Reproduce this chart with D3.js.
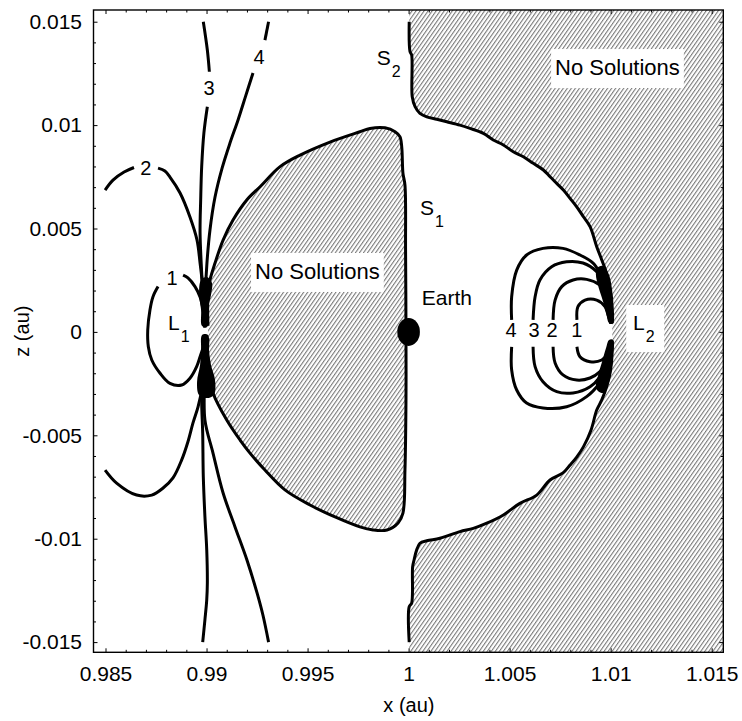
<!DOCTYPE html>
<html>
<head>
<meta charset="utf-8">
<script src="https://cdn.jsdelivr.net/npm/d3@7"></script>
<style>
  body { margin: 0; background: #fff; }
  text { font-family: "Liberation Sans", Arial, Helvetica, sans-serif; fill: #000; }
</style>
</head>
<body>
<svg id="chart" width="742" height="721"></svg>
<script>
// ---- Zero-velocity / solution-boundary curves in the x–z plane (au) ----

// Forbidden region between L1 and the Earth (closed, starting next to L1 above the axis)
const centralRegion = [
  [0.99007, 0.00030], [0.99007, 0.00188], [0.99017, 0.00251], [0.99042, 0.00333],
  [0.99082, 0.00444], [0.99131, 0.00541], [0.99199, 0.00638], [0.99265, 0.00702],
  [0.99364, 0.00799], [0.99463, 0.00855], [0.99611, 0.00918], [0.99759, 0.00968],
  [0.99809, 0.00984], [0.99883, 0.00987], [0.99933, 0.00968], [0.99957, 0.00944],
  [0.99966, 0.00895], [0.99972, 0.00768], [0.99982, 0.00710], [0.99985, 0.00396],
  [0.99987, 0.00000], [0.99987, -0.00329], [0.99982, -0.00668], [0.99972, -0.00876],
  [0.99948, -0.00924], [0.99893, -0.00958], [0.99824, -0.00958], [0.99759, -0.00943],
  [0.99636, -0.00895], [0.99512, -0.00837], [0.99388, -0.00764], [0.99289, -0.00668],
  [0.99215, -0.00586], [0.99166, -0.00523], [0.99100, -0.00426], [0.99032, -0.00295],
  [0.99007, -0.00184], [0.99007, -0.00030]
];

// Outer boundary S2, above and below L2
const separatrixUpper = [
  [1.00003, 0.01500], [1.00007, 0.01355], [1.00015, 0.01339], [1.00018, 0.01137],
  [1.00032, 0.01089], [1.00056, 0.01057], [1.00090, 0.01040], [1.00139, 0.01028],
  [1.00189, 0.01016], [1.00254, 0.01000], [1.00304, 0.00984], [1.00370, 0.00960],
  [1.00419, 0.00928], [1.00469, 0.00904], [1.00518, 0.00871], [1.00568, 0.00847],
  [1.00617, 0.00815], [1.00667, 0.00783], [1.00700, 0.00750], [1.00733, 0.00718],
  [1.00766, 0.00686], [1.00799, 0.00646], [1.00832, 0.00605], [1.00865, 0.00557],
  [1.00898, 0.00509], [1.00931, 0.00412], [1.00956, 0.00348], [1.00980, 0.00283],
  [1.00997, 0.00203], [1.01005, 0.00122], [1.01008, 0.00042]
];
const separatrixLower = [
  [1.01008, -0.00042], [1.01005, -0.00103], [1.00997, -0.00184], [1.00980, -0.00265],
  [1.00956, -0.00329], [1.00931, -0.00378], [1.00903, -0.00474], [1.00865, -0.00556],
  [1.00832, -0.00605], [1.00799, -0.00644], [1.00764, -0.00682], [1.00700, -0.00716],
  [1.00634, -0.00789], [1.00551, -0.00829], [1.00469, -0.00885], [1.00387, -0.00925],
  [1.00320, -0.00950], [1.00254, -0.00966], [1.00155, -0.00998], [1.00090, -0.01010],
  [1.00056, -0.01022], [1.00040, -0.01054], [1.00027, -0.01103], [1.00020, -0.01135],
  [1.00015, -0.01312], [1.00003, -0.01329], [1.00003, -0.01500]
];

// Contours through L1 (each one split where its number label sits)
const l1Contour1 = [
  [[0.98884, 0.00275], [0.98908, 0.00261], [0.98943, 0.00219], [0.98968, 0.00169],
   [0.98983, 0.00106], [0.98992, 0.00022]],
  [[0.98760, 0.00219], [0.98735, 0.00170], [0.98720, 0.00106], [0.98709, 0.00009],
   [0.98712, -0.00072], [0.98729, -0.00136], [0.98770, -0.00200], [0.98819, -0.00249],
   [0.98877, -0.00257], [0.98918, -0.00224], [0.98951, -0.00168], [0.98968, -0.00120],
   [0.98984, -0.00072], [0.98992, -0.00022]]
];
const l1Contour2 = [
  [[0.98498, 0.00686], [0.98537, 0.00734], [0.98592, 0.00773], [0.98641, 0.00795]],
  [[0.98760, 0.00792], [0.98794, 0.00778], [0.98819, 0.00749], [0.98869, 0.00672],
   [0.98918, 0.00556], [0.98953, 0.00444], [0.98968, 0.00333], [0.98983, 0.00203],
   [0.98990, 0.00106], [0.98992, 0.00022]],
  [[0.98992, -0.00022], [0.98987, -0.00160], [0.98976, -0.00281], [0.98958, -0.00362],
   [0.98933, -0.00440], [0.98908, -0.00531], [0.98877, -0.00619], [0.98834, -0.00706],
   [0.98785, -0.00755], [0.98729, -0.00789], [0.98654, -0.00789], [0.98555, -0.00731],
   [0.98498, -0.00668]]
];
const l1Contour3 = [
  [[0.98984, 0.01500], [0.99004, 0.01363], [0.99014, 0.01258]],
  [[0.99004, 0.01089], [0.98987, 0.00962], [0.98976, 0.00799], [0.98971, 0.00638],
   [0.98968, 0.00478], [0.98976, 0.00285], [0.98983, 0.00154], [0.98992, 0.00022]],
  [[0.98992, -0.00022], [0.98983, -0.00184], [0.98976, -0.00329], [0.98981, -0.00489],
   [0.98984, -0.00700], [0.98992, -0.00893], [0.99001, -0.01054], [0.99004, -0.01214],
   [0.99001, -0.01296], [0.98992, -0.01392], [0.98981, -0.01500]]
];
const l1Contour4 = [
  [[0.99307, 0.01500], [0.99289, 0.01411]],
  [[0.99230, 0.01252], [0.99195, 0.01145], [0.99156, 0.01025], [0.99116, 0.00913],
   [0.99077, 0.00792], [0.99042, 0.00652], [0.99017, 0.00493], [0.99002, 0.00333],
   [0.98995, 0.00203], [0.98992, 0.00022]],
  [[0.98992, -0.00022], [0.98990, -0.00233], [0.98992, -0.00426], [0.99032, -0.00586],
   [0.99082, -0.00779], [0.99141, -0.00943], [0.99200, -0.01103], [0.99250, -0.01262],
   [0.99279, -0.01369], [0.99307, -0.01500]]
];

// Contours closing on L2
const l2Contour1 = [
  [[1.00833, 0.00058], [1.00838, 0.00122], [1.00873, 0.00154], [1.00931, 0.00154],
   [1.00972, 0.00122], [1.00987, 0.00082], [1.01002, 0.00040]],
  [[1.00833, -0.00072], [1.00848, -0.00120], [1.00898, -0.00144], [1.00956, -0.00136],
   [1.00987, -0.00102], [1.01002, -0.00040]]
];
const l2Contour2 = [
  [[1.00715, 0.00058], [1.00725, 0.00154], [1.00758, 0.00219], [1.00814, 0.00251],
   [1.00881, 0.00254], [1.00947, 0.00227], [1.00980, 0.00188], [1.00997, 0.00116],
   [1.01002, 0.00040]],
  [[1.00715, -0.00072], [1.00725, -0.00150], [1.00764, -0.00208], [1.00832, -0.00233],
   [1.00898, -0.00223], [1.00947, -0.00192], [1.00980, -0.00150], [1.01002, -0.00040]]
];
const l2Contour3 = [
  [[1.00616, 0.00058], [1.00626, 0.00170], [1.00650, 0.00251], [1.00708, 0.00315],
   [1.00782, 0.00339], [1.00863, 0.00333], [1.00931, 0.00291], [1.00972, 0.00227],
   [1.00997, 0.00130], [1.01002, 0.00040]],
  [[1.00616, -0.00072], [1.00626, -0.00168], [1.00665, -0.00241], [1.00733, -0.00289],
   [1.00814, -0.00295], [1.00898, -0.00265], [1.00947, -0.00217], [1.00982, -0.00146],
   [1.01002, -0.00040]]
];
const l2Contour4 = [
  [[1.00510, 0.00058], [1.00510, 0.00170], [1.00535, 0.00299], [1.00584, 0.00372],
   [1.00665, 0.00404], [1.00764, 0.00404], [1.00848, 0.00372], [1.00913, 0.00333],
   [1.00947, 0.00285], [1.00980, 0.00219], [1.00997, 0.00122], [1.01002, 0.00040]],
  [[1.00510, -0.00072], [1.00510, -0.00184], [1.00535, -0.00281], [1.00584, -0.00344],
   [1.00665, -0.00368], [1.00782, -0.00362], [1.00881, -0.00313], [1.00947, -0.00247],
   [1.00987, -0.00184], [1.00997, -0.00112], [1.01002, -0.00040]]
];

// Dense tangles where the contours pile up next to L1 and L2
const l1TangleUpper = [
  [0.98973, 0.00251], [0.99002, 0.00265], [0.99027, 0.00236], [0.99022, 0.00178],
  [0.99007, 0.00106], [0.99007, 0.00029], [0.98978, 0.00029], [0.98973, 0.00106],
  [0.98963, 0.00188]
];
const l1TangleLower = [
  [0.98978, -0.00015], [0.99007, -0.00015], [0.99012, -0.00088], [0.99022, -0.00160],
  [0.99042, -0.00233], [0.99037, -0.00305], [0.99002, -0.00320], [0.98963, -0.00305],
  [0.98953, -0.00242], [0.98968, -0.00160], [0.98973, -0.00088]
];
const l2TangleUpper = [
  [1.00932, 0.00309], [1.00962, 0.00319], [1.00992, 0.00275], [1.01007, 0.00203],
  [1.01014, 0.00130], [1.01012, 0.00043], [1.00992, 0.00043], [1.00977, 0.00096],
  [1.00957, 0.00164], [1.00937, 0.00227], [1.00927, 0.00275]
];
const l2TangleLower = [
  [1.01012, -0.00039], [1.00992, -0.00039], [1.00977, -0.00078], [1.00957, -0.00146],
  [1.00937, -0.00213], [1.00927, -0.00262], [1.00937, -0.00286], [1.00967, -0.00295],
  [1.00992, -0.00247], [1.01007, -0.00184], [1.01014, -0.00112]
];

// Contour number labels [x, z, text]
const contourLabels = [
  [0.98829, 0.00263, "1"], [0.98700, 0.00791, "2"], [0.99012, 0.01178, "3"], [0.99260, 0.01329, "4"],
  [1.00833, 0.00009, "1"], [1.00710, 0.00009, "2"], [1.00621, 0.00009, "3"], [1.00507, 0.00009, "4"]
];

// Earth position
const earth = [1.0, 0.0];

// Axis ticks
const xMajorTicks = [0.985, 0.99, 0.995, 1, 1.005, 1.01, 1.015];
const xTickLabels = ["0.985", "0.99", "0.995", "1", "1.005", "1.01", "1.015"];
const zMajorTicks = [0.015, 0.01, 0.005, 0, -0.005, -0.01, -0.015];
const zTickLabels = ["0.015", "0.01", "0.005", "0", "-0.005", "-0.01", "-0.015"];

// ---- Layout ----
const plotL = 93.5, plotR = 723.3, plotT = 10, plotB = 652.3;
const xScale = d3.scaleLinear().domain([0.984406, 1.015574]).range([plotL, plotR]);
const zScale = d3.scaleLinear().domain([-0.015493, 0.015566]).range([plotB, plotT]);
const [xMin, xMax] = xScale.domain();
const [zMin, zMax] = zScale.domain();

const svg = d3.select("#chart");
const defs = svg.append("defs");

const hatch = defs.append("pattern")
  .attr("id", "hatch")
  .attr("patternUnits", "userSpaceOnUse")
  .attr("width", 3.3).attr("height", 10)
  .attr("patternTransform", "rotate(35)");
hatch.append("rect").attr("width", 3.3).attr("height", 10).attr("fill", "#fff");
hatch.append("line")
  .attr("x1", 0.6).attr("y1", 0).attr("x2", 0.6).attr("y2", 10)
  .attr("stroke", "#555").attr("stroke-width", 0.85);

defs.append("clipPath").attr("id", "plotClip")
  .append("rect").attr("x", plotL).attr("y", plotT)
  .attr("width", plotR - plotL).attr("height", plotB - plotT);

const plot = svg.append("g").attr("clip-path", "url(#plotClip)");

const smooth = d3.line()
  .x(d => xScale(d[0])).y(d => zScale(d[1]))
  .curve(d3.curveCatmullRom.alpha(0.5));
const straight = d3.line()
  .x(d => xScale(d[0])).y(d => zScale(d[1]));
const blob = d3.line()
  .x(d => xScale(d[0])).y(d => zScale(d[1]))
  .curve(d3.curveCatmullRomClosed.alpha(0.5));

// Hatched forbidden regions
const outerRegion = [[separatrixUpper[0][0], zMax]]
  .concat(separatrixUpper, separatrixLower,
          [[separatrixLower[separatrixLower.length - 1][0], zMin], [xMax, zMin], [xMax, zMax]]);
plot.append("path").attr("d", straight(outerRegion) + "Z").attr("fill", "url(#hatch)");
plot.append("path").attr("d", smooth(centralRegion) + "Z").attr("fill", "url(#hatch)");

// White label boxes over the hatching
const boxes = plot.append("g");

// Curves
const curveStyle = sel => sel.attr("fill", "none").attr("stroke", "#000")
  .attr("stroke-width", 3).attr("stroke-linejoin", "round");

plot.append("path").attr("d", smooth(centralRegion)).call(curveStyle);
plot.append("path").attr("d", smooth(separatrixUpper)).call(curveStyle);
plot.append("path").attr("d", smooth(separatrixLower)).call(curveStyle);

[l1Contour1, l1Contour2, l1Contour3, l1Contour4,
 l2Contour1, l2Contour2, l2Contour3, l2Contour4].forEach(contour => {
  contour.forEach(seg => plot.append("path").attr("d", smooth(seg)).call(curveStyle));
});

[l1TangleUpper, l1TangleLower, l2TangleUpper, l2TangleLower].forEach(t => {
  plot.append("path").attr("d", blob(t)).attr("fill", "#000");
});

// Earth
plot.append("ellipse")
  .attr("cx", xScale(earth[0])).attr("cy", zScale(earth[1]))
  .attr("rx", 11.3).attr("ry", 14).attr("fill", "#000");

// Contour numbers
plot.selectAll("text.num").data(contourLabels).join("text")
  .attr("class", "num")
  .attr("x", d => xScale(d[0])).attr("y", d => zScale(d[1]))
  .attr("text-anchor", "middle").attr("dy", "0.35em")
  .attr("font-size", 20)
  .text(d => d[2]);

// Region annotations
function noSolutions(x, z) {
  const t = plot.append("text")
    .attr("x", xScale(x)).attr("y", zScale(z))
    .attr("font-size", 22).text("No Solutions");
  const w = t.node().getComputedTextLength();
  boxes.append("rect")
    .attr("x", xScale(x) - 4).attr("y", zScale(z) - 26)
    .attr("width", w + 8).attr("height", 39).attr("fill", "#fff");
}
noSolutions(1.00725, 0.01242);
noSolutions(0.99240, 0.00256);

function subscripted(x, z, main, sub) {
  const px = xScale(x), py = zScale(z);
  const t = plot.append("text").attr("x", px).attr("y", py).attr("font-size", 21).text(main);
  const w = t.node().getComputedTextLength();
  plot.append("text").attr("x", px + w + 1).attr("y", py + 12).attr("font-size", 16).text(sub);
}
// white box behind the L2 label
boxes.append("rect")
  .attr("x", xScale(1.01077)).attr("y", zScale(0.00130))
  .attr("width", 38).attr("height", 47).attr("fill", "#fff");

subscripted(0.98809, 0.00009, "L", "1");
subscripted(1.01111, 0.00009, "L", "2");
subscripted(0.99842, 0.01290, "S", "2");
subscripted(1.00056, 0.00565, "S", "1");

plot.append("text")
  .attr("x", xScale(1.00065)).attr("y", zScale(0.00130))
  .attr("font-size", 21).text("Earth");

// ---- Axes: inward ticks on all four sides ----
const minorX = xScale.ticks(32).filter(v => !xMajorTicks.some(m => Math.abs(m - v) < 1e-9));
const minorZ = zScale.ticks(32).filter(v => !zMajorTicks.some(m => Math.abs(m - v) < 1e-9));

const styleAxis = g => {
  g.select(".domain").remove();
  g.selectAll(".tick line").attr("stroke", "#000").attr("stroke-width", 1);
  g.selectAll(".tick text")
    .attr("font-family", "'Liberation Sans', Arial, Helvetica, sans-serif")
    .attr("font-size", 21).attr("fill", "#000");
};

svg.append("g").attr("transform", `translate(0,${plotB})`)
  .call(d3.axisBottom(xScale).tickValues(xMajorTicks)
    .tickFormat(d => xTickLabels[xMajorTicks.indexOf(d)])
    .tickSize(-4).tickPadding(13.5))
  .call(styleAxis);
svg.append("g").attr("transform", `translate(${plotL},0)`)
  .call(d3.axisLeft(zScale).tickValues(zMajorTicks)
    .tickFormat(d => zTickLabels[zMajorTicks.indexOf(d)])
    .tickSize(-4).tickPadding(11.5))
  .call(styleAxis);
svg.append("g").attr("transform", `translate(0,${plotT})`)
  .call(d3.axisTop(xScale).tickValues(xMajorTicks).tickFormat("").tickSize(-4))
  .call(styleAxis);
svg.append("g").attr("transform", `translate(${plotR},0)`)
  .call(d3.axisRight(zScale).tickValues(zMajorTicks).tickFormat("").tickSize(-4))
  .call(styleAxis);

svg.append("g").attr("transform", `translate(0,${plotB})`)
  .call(d3.axisBottom(xScale).tickValues(minorX).tickFormat("").tickSize(-2.5)).call(styleAxis);
svg.append("g").attr("transform", `translate(0,${plotT})`)
  .call(d3.axisTop(xScale).tickValues(minorX).tickFormat("").tickSize(-2.5)).call(styleAxis);
svg.append("g").attr("transform", `translate(${plotL},0)`)
  .call(d3.axisLeft(zScale).tickValues(minorZ).tickFormat("").tickSize(-2.5)).call(styleAxis);
svg.append("g").attr("transform", `translate(${plotR},0)`)
  .call(d3.axisRight(zScale).tickValues(minorZ).tickFormat("").tickSize(-2.5)).call(styleAxis);

// Frame
svg.append("rect")
  .attr("x", plotL).attr("y", plotT).attr("width", plotR - plotL).attr("height", plotB - plotT)
  .attr("fill", "none").attr("stroke", "#000").attr("stroke-width", 1.4);

// Axis titles
svg.append("text")
  .attr("x", (plotL + plotR) / 2 + 0.5).attr("y", 712)
  .attr("text-anchor", "middle").attr("font-size", 20).text("x (au)");
svg.append("text")
  .attr("transform", `translate(29,${(plotT + plotB) / 2}) rotate(-90)`)
  .attr("text-anchor", "middle").attr("font-size", 20).text("z (au)");
</script>
</body>
</html>
